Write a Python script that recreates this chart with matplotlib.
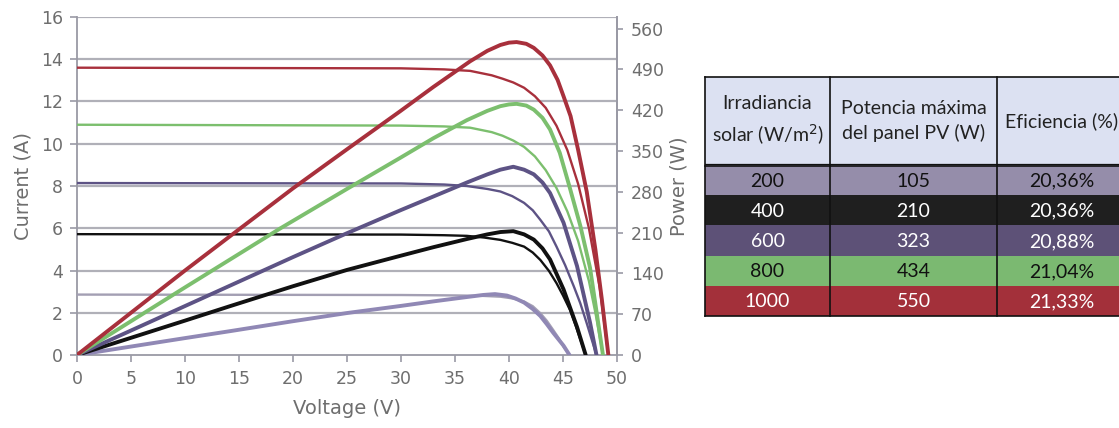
import matplotlib
matplotlib.use("Agg")
import matplotlib.pyplot as plt
from matplotlib.patches import Rectangle

# ---- data ----
irradiance = [200, 400, 600, 800, 1000]
p_max = [105, 210, 323, 434, 550]
efficiency = ["20,36%", "20,36%", "20,88%", "21,04%", "21,33%"]

# I-V curves (Voltage V, Current A)
v_iv_200 = [0, 30, 35, 37.5, 39.2, 40.3, 41.4, 42.2, 42.9, 43.5, 44.1, 44.6, 45.05, 45.6]
i_200 = [2.86, 2.84, 2.82, 2.80, 2.76, 2.68, 2.53, 2.31, 1.98, 1.62, 1.18, 0.80, 0.39, 0]
v_iv_400 = [0, 30, 34, 36.1, 37.7, 39.2, 40.3, 41.4, 42.2, 42.9, 43.7, 44.4, 45.0, 45.65, 46.2, 46.6, 47.1]
i_400 = [5.72, 5.70, 5.67, 5.64, 5.56, 5.45, 5.31, 5.13, 4.85, 4.5, 3.98, 3.4, 2.82, 2.13, 1.35, 0.75, 0]
v_iv_600 = [0, 30, 34, 36.1, 38.0, 39.2, 40.3, 41.4, 42.2, 42.9, 43.7, 44.4, 45.2, 46.0, 46.6, 47.2, 48.1]
i_600 = [8.14, 8.12, 8.07, 8.0, 7.86, 7.74, 7.52, 7.2, 6.85, 6.4, 5.85, 5.13, 4.25, 3.25, 2.45, 1.5, 0]
v_iv_800 = [0, 30, 34, 36.4, 38.4, 39.4, 40.4, 41.4, 42.4, 43.4, 44.4, 45.4, 46.4, 47.4, 48.0, 48.7]
i_800 = [10.9, 10.86, 10.82, 10.76, 10.55, 10.38, 10.15, 9.85, 9.4, 8.75, 7.9, 6.8, 5.4, 3.5, 2.0, 0]
v_iv_1000 = [0, 30, 34, 36.4, 38.4, 39.4, 40.4, 41.4, 42.4, 43.4, 44.4, 45.4, 46.4, 47.4, 48.4, 49.2]
i_1000 = [13.6, 13.57, 13.52, 13.45, 13.24, 13.08, 12.9, 12.65, 12.25, 11.7, 10.85, 9.7, 8.1, 6.0, 3.2, 0]

# P-V curves (Voltage V, Power W)
v_pv_200 = [0, 10, 14.2, 20, 25, 29.9, 33.0, 36.1, 37.6, 38.7, 39.8, 40.6, 41.4, 42.2, 42.9, 43.5, 44.1, 45.05, 45.6]
p_200 = [0, 29, 41, 58, 72, 84, 92, 99.5, 103, 104.5, 102, 97, 90, 79, 67, 53, 38, 16, 0]
v_pv_400 = [0, 10, 14.2, 20, 25, 29.9, 33.0, 36.1, 38.0, 39.2, 40.4, 41.4, 42.3, 43.1, 43.8, 45.05, 46.3, 47.1]
p_400 = [0, 59, 84, 118, 146, 170, 185, 199, 207, 211, 212.5, 207, 198, 183, 164, 112.6, 48, 0]
v_pv_600 = [0, 10, 20, 25, 29.9, 33.0, 36.1, 38.0, 39.2, 40.4, 41.4, 42.3, 43.1, 43.8, 45.05, 46.3, 47.5, 48.1]
p_600 = [0, 84, 168, 209, 248, 272, 296, 310, 318, 323, 318, 310, 296, 278, 227, 152.6, 56, 0]
v_pv_800 = [0, 10, 18.8, 25, 29.9, 33.0, 36.1, 38.0, 39.2, 40.0, 40.7, 41.6, 42.3, 43.1, 43.8, 44.7, 45.6, 46.6, 47.5, 48.7]
p_800 = [0, 116, 217, 285, 338, 372, 403, 419, 427, 430, 431, 428, 421, 407, 387, 347, 289, 222, 150, 0]
v_pv_1000 = [0, 10, 15.1, 20, 25, 29.9, 33.0, 36.4, 38.0, 39.2, 40.0, 40.7, 41.6, 42.3, 43.1, 43.8, 44.5,
             45.05, 45.7, 46.4, 47.2, 48.0, 48.6, 49.2]
p_1000 = [0, 145, 217, 286, 353, 418, 460, 504, 522, 532, 536, 537, 534, 527, 514, 497, 472,
          444, 410, 352, 280, 181, 95, 0]

iv_curves = [(v_iv_200, i_200), (v_iv_400, i_400), (v_iv_600, i_600),
             (v_iv_800, i_800), (v_iv_1000, i_1000)]
pv_curves = [(v_pv_200, p_200), (v_pv_400, p_400), (v_pv_600, p_600),
             (v_pv_800, p_800), (v_pv_1000, p_1000)]

iv_colors = ["#a39fb3", "#111111", "#5d5385", "#7cbf6e", "#a8303c"]
pv_colors = ["#9088b5", "#111111", "#5d5385", "#7cbf6e", "#a8303c"]
row_colors = ["#958daa", "#1f1f1f", "#5d5177", "#7bb971", "#a3303a"]
row_text = ["#111111", "white", "white", "#111111", "white"]

grid_col = "#b0b0b8"
axis_col = "#9a9aa5"
text_col = "#6e6e6e"

W, H = 1119, 428
fig = plt.figure(figsize=(W / 100, H / 100), dpi=100)

# chart area in pixels: x 77..617, y 17..355
ax = fig.add_axes([77 / W, 1 - 355 / H, 540 / W, 338 / H])
ax.set_xlim(0, 50)
ax.set_ylim(0, 16)
ax.set_xticks(range(0, 51, 5))
ax.set_yticks(range(0, 17, 2))
for y in range(2, 17, 2):
    ax.axhline(y, color=grid_col, lw=1.6, zorder=0)
ax.spines["top"].set_visible(False)
for s in ["left", "bottom", "right"]:
    ax.spines[s].set_color(axis_col)
    ax.spines[s].set_linewidth(1.3)
ax.tick_params(axis="both", colors=axis_col, labelcolor=text_col, labelsize=12.5,
               length=5, width=1.2)
ax.tick_params(axis="y", pad=5)
ax.tick_params(axis="x", pad=6)
ax.set_xlabel("Voltage (V)", fontsize=14, color=text_col, labelpad=8)
ax.set_ylabel("Current (A)", fontsize=14, color=text_col, labelpad=6)

ax2 = ax.twinx()
ax2.set_ylim(0, 580)
ax2.set_yticks(range(0, 561, 70))
for s in ["top", "left", "bottom"]:
    ax2.spines[s].set_visible(False)
ax2.spines["right"].set_color(axis_col)
ax2.spines["right"].set_linewidth(1.3)
ax2.tick_params(axis="y", colors=axis_col, labelcolor=text_col, labelsize=12.5,
                length=4, width=1.2, pad=6)
ax2.set_ylabel("Power (W)", fontsize=14, color=text_col, labelpad=4)

for (v, i), c in zip(iv_curves, iv_colors):
    ax.plot(v, i, color=c, lw=1.7, solid_capstyle="round", zorder=3)
for (v, p), c in zip(pv_curves, pv_colors):
    ax2.plot(v, p, color=c, lw=2.8, solid_capstyle="round", zorder=3)

# ---- table, drawn in pixel coordinates ----
tab = fig.add_axes([0, 0, 1, 1], facecolor="none")
tab.set_xlim(0, W)
tab.set_ylim(H, 0)
tab.axis("off")

col_edges = [705, 830, 997, 1127]
head_top, head_bot, row_h = 77, 165, 30.2
headers = ["Irradiancia\nsolar (W/m$^2$)", "Potencia máxima\ndel panel PV (W)", "Eficiencia (%)"]
tfont = dict(family="Lato", fontsize=14)

for k in range(3):
    x0, x1 = col_edges[k], col_edges[k + 1]
    tab.add_patch(Rectangle((x0, head_top), x1 - x0, head_bot - head_top,
                            facecolor="#dce1f2", edgecolor="none"))
    tab.text((x0 + x1) / 2, (head_top + head_bot) / 2, headers[k], ha="center",
             va="center", color="#222222", linespacing=1.5, **tfont)

for r, (irr, pm, ef) in enumerate(zip(irradiance, p_max, efficiency)):
    y0 = head_bot + r * row_h
    tab.add_patch(Rectangle((col_edges[0], y0), col_edges[-1] - col_edges[0], row_h,
                            facecolor=row_colors[r], edgecolor="none"))
    for k, val in enumerate([str(irr), str(pm), ef]):
        tab.text((col_edges[k] + col_edges[k + 1]) / 2, y0 + row_h / 2 + 1, val,
                 ha="center", va="center", color=row_text[r], **tfont)

bottom = head_bot + len(irradiance) * row_h
for x in col_edges:
    tab.plot([x, x], [head_top, bottom], color="#111111", lw=1.2)
tab.plot([col_edges[0], col_edges[-1]], [head_top, head_top], color="#111111", lw=1.2)
tab.plot([col_edges[0], col_edges[-1]], [head_bot - 1.5, head_bot - 1.5], color="#111111", lw=0.9)
tab.plot([col_edges[0], col_edges[-1]], [head_bot + 0.5, head_bot + 0.5], color="#111111", lw=1.2)
tab.plot([col_edges[0], col_edges[-1]], [bottom, bottom], color="#111111", lw=1.2)

fig.savefig("out.png", dpi=100)
